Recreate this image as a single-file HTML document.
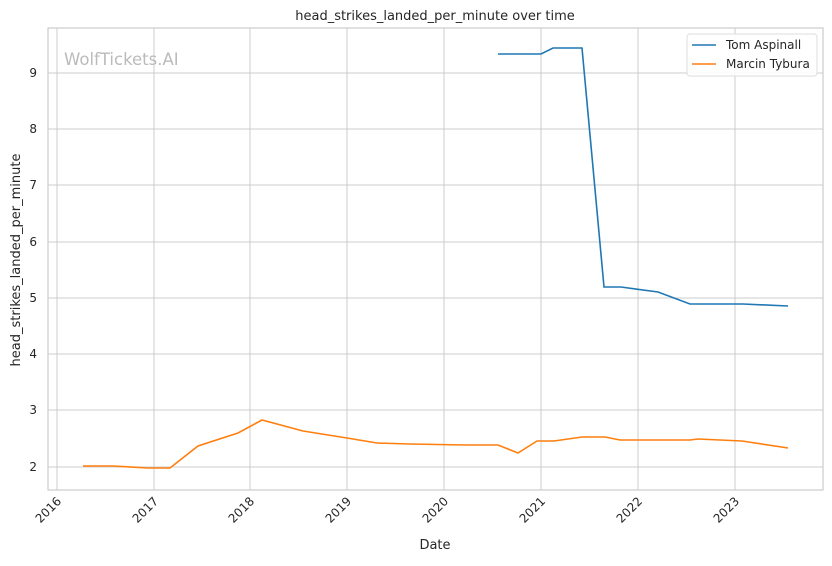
<!DOCTYPE html>
<html><head><meta charset="utf-8"><style>
body{margin:0;background:#fff;}
svg text{font-family:"DejaVu Sans","Liberation Sans",sans-serif;fill:#262626;}
</style></head><body>
<svg width="832" height="561" viewBox="0 0 832 561" xmlns="http://www.w3.org/2000/svg">
<rect width="832" height="561" fill="#fff"/>
<g stroke="#cccccc" stroke-width="1">
<line x1="57" y1="28" x2="57" y2="490"/><line x1="154" y1="28" x2="154" y2="490"/><line x1="250" y1="28" x2="250" y2="490"/><line x1="347" y1="28" x2="347" y2="490"/><line x1="444" y1="28" x2="444" y2="490"/><line x1="541" y1="28" x2="541" y2="490"/><line x1="638" y1="28" x2="638" y2="490"/><line x1="735" y1="28" x2="735" y2="490"/>
<line x1="48" y1="73" x2="823" y2="73"/><line x1="48" y1="129" x2="823" y2="129"/><line x1="48" y1="185" x2="823" y2="185"/><line x1="48" y1="242" x2="823" y2="242"/><line x1="48" y1="298" x2="823" y2="298"/><line x1="48" y1="354" x2="823" y2="354"/><line x1="48" y1="410" x2="823" y2="410"/><line x1="48" y1="467" x2="823" y2="467"/>
</g>
<rect x="48" y="28" width="775" height="462" fill="none" stroke="#cccccc" stroke-width="1.2"/>
<text x="64" y="65" font-size="16.5" style="fill:#bbbbbb">WolfTickets.AI</text>
<polyline fill="none" stroke="#1f77b4" stroke-width="1.6" points="498,54 541,54 553,48 582,48 604,287 621,287 658,292 690,304 743,304 788,306"/>
<polyline fill="none" stroke="#ff7f0e" stroke-width="1.6" points="83,466 113,466 148,468 170,468 198,446 238,433 262,420 303,431 347,438 377,443 410,444 465,445 498,445 518,453 537,441 554,441 582,437 605,437 620,440 690,440 698,439 742,441 788,448"/>
<g font-size="12" text-anchor="end">
<text x="37" y="77">9</text><text x="37" y="133">8</text><text x="37" y="189">7</text><text x="37" y="246">6</text><text x="37" y="302">5</text><text x="37" y="358">4</text><text x="37" y="414">3</text><text x="37" y="471">2</text>
</g>
<g font-size="12" text-anchor="end">
<text transform="translate(62,502) rotate(-45)">2016</text><text transform="translate(159,502) rotate(-45)">2017</text><text transform="translate(255,502) rotate(-45)">2018</text><text transform="translate(352,502) rotate(-45)">2019</text><text transform="translate(449,502) rotate(-45)">2020</text><text transform="translate(546,502) rotate(-45)">2021</text><text transform="translate(643,502) rotate(-45)">2022</text><text transform="translate(740,502) rotate(-45)">2023</text>
</g>
<text x="435" y="549" font-size="13" text-anchor="middle">Date</text>
<text transform="translate(20,260) rotate(-90)" font-size="13" text-anchor="middle">head_strikes_landed_per_minute</text>
<text x="435" y="20" font-size="13" text-anchor="middle">head_strikes_landed_per_minute over time</text>
<rect x="687" y="34" width="130" height="42" rx="3" fill="#fff" fill-opacity="0.85" stroke="#dddddd"/>
<line x1="692" y1="45" x2="716" y2="45" stroke="#1f77b4" stroke-width="1.6"/>
<line x1="692" y1="64" x2="716" y2="64" stroke="#ff7f0e" stroke-width="1.6"/>
<text x="726" y="49" font-size="12">Tom Aspinall</text>
<text x="726" y="68" font-size="12">Marcin Tybura</text>
</svg>
</body></html>
